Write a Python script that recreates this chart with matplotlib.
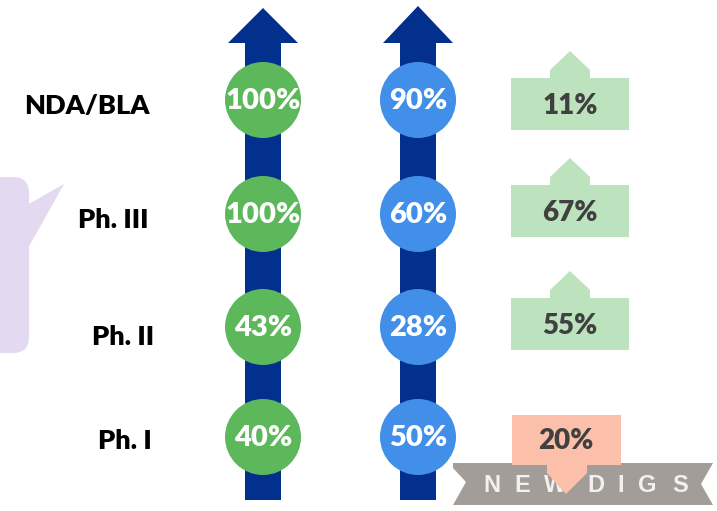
import matplotlib
matplotlib.use("Agg")
import matplotlib.pyplot as plt
from matplotlib.patches import Circle, Polygon, FancyBboxPatch

# ---- data ----
stages = ["NDA/BLA", "Ph. III", "Ph. II", "Ph. I"]
green_values = ["100%", "100%", "43%", "40%"]
blue_values = ["90%", "60%", "28%", "50%"]
change_values = ["11%", "67%", "55%", "20%"]
change_direction = ["up", "up", "up", "down"]
brand_letters = ["N", "E", "W", "D", "I", "G", "S"]

# ---- layout ----
W, H = 717, 511
fig = plt.figure(figsize=(W / 100, H / 100), dpi=100)
ax = fig.add_axes([0, 0, 1, 1])
ax.set_xlim(0, W)
ax.set_ylim(H, 0)
ax.axis("off")

FONT = ["Lato", "DejaVu Sans"]
WEIGHT = "heavy"
NAVY = "#02308c"
GREEN = "#5cb85a"
BLUE = "#418fe8"
UPC = "#bde3be"
DOWNC = "#fcc0aa"
GREY = "#a29d98"

row_y = [100, 214, 327, 437]
label_x = [150, 148, 154, 152]
label_y = [106, 220, 337, 441]
badge_top = [78, 185, 298, 415]

# purple callout
ax.add_patch(FancyBboxPatch((-40, 177), 69, 176, boxstyle="round,pad=0,rounding_size=16",
                            fc="#e3d9f0", ec="none", zorder=1))
ax.add_patch(Polygon([(27, 205), (64, 184), (27, 250)], closed=True, fc="#e3d9f0", ec="none", zorder=1))

# arrows
for cx, tip in [(263, 8), (418, 6)]:
    ax.add_patch(Polygon([(cx - 18, 500), (cx - 18, 43), (cx - 35, 43), (cx, tip),
                          (cx + 35, 43), (cx + 18, 43), (cx + 18, 500)],
                         closed=True, fc=NAVY, ec="none", zorder=2))

# stage labels
for s, x, y in zip(stages, label_x, label_y):
    ax.text(x, y, s, ha="right", va="center", fontsize=19.5, fontweight=WEIGHT,
            family=FONT, color="#000000", zorder=5)

# circles
for y, g, b in zip(row_y, green_values, blue_values):
    ax.add_patch(Circle((263, y), 38, fc=GREEN, ec="none", zorder=3))
    ax.add_patch(Circle((418, y), 38, fc=BLUE, ec="none", zorder=3))
    ax.text(263, y + 1, g, ha="center", va="center", fontsize=21, fontweight=WEIGHT,
            family=FONT, color="white", zorder=4)
    ax.text(418, y + 1, b, ha="center", va="center", fontsize=21, fontweight=WEIGHT,
            family=FONT, color="white", zorder=4)

# brand ribbon
ax.add_patch(Polygon([(453, 463), (713, 463), (701, 484), (713, 505), (453, 505), (466, 482), (453, 468)],
                     closed=True, fc=GREY, ec="none", zorder=2))
for ch, x in zip(brand_letters, [492, 522, 555, 596, 621, 647, 680]):
    ax.text(x, 485, ch, ha="center", va="center", fontsize=17, fontweight="bold",
            family=["Liberation Sans", "DejaVu Sans"], color="#f2f1f0", zorder=3)

# change badges
for top, v, d in zip(badge_top, change_values, change_direction):
    if d == "up":
        bot = top + 52
        poly = [(511, bot), (511, top), (550, top), (550, top - 8), (570, top - 27),
                (590, top - 8), (590, top), (629, top), (629, bot)]
        col, cx = UPC, 570
        ty = top + 28
    else:
        bot = top + 50
        poly = [(512, top), (621, top), (621, bot), (587, bot), (587, bot + 8), (566, bot + 29),
                (547, bot + 8), (547, bot), (512, bot)]
        col, cx = DOWNC, 566
        ty = top + 26
    ax.add_patch(Polygon(poly, closed=True, fc=col, ec="none", zorder=4))
    ax.text(cx, ty, v, ha="center", va="center", fontsize=20, fontweight=WEIGHT,
            family=FONT, color="#404040", zorder=5)

fig.savefig("out.png", dpi=100)
